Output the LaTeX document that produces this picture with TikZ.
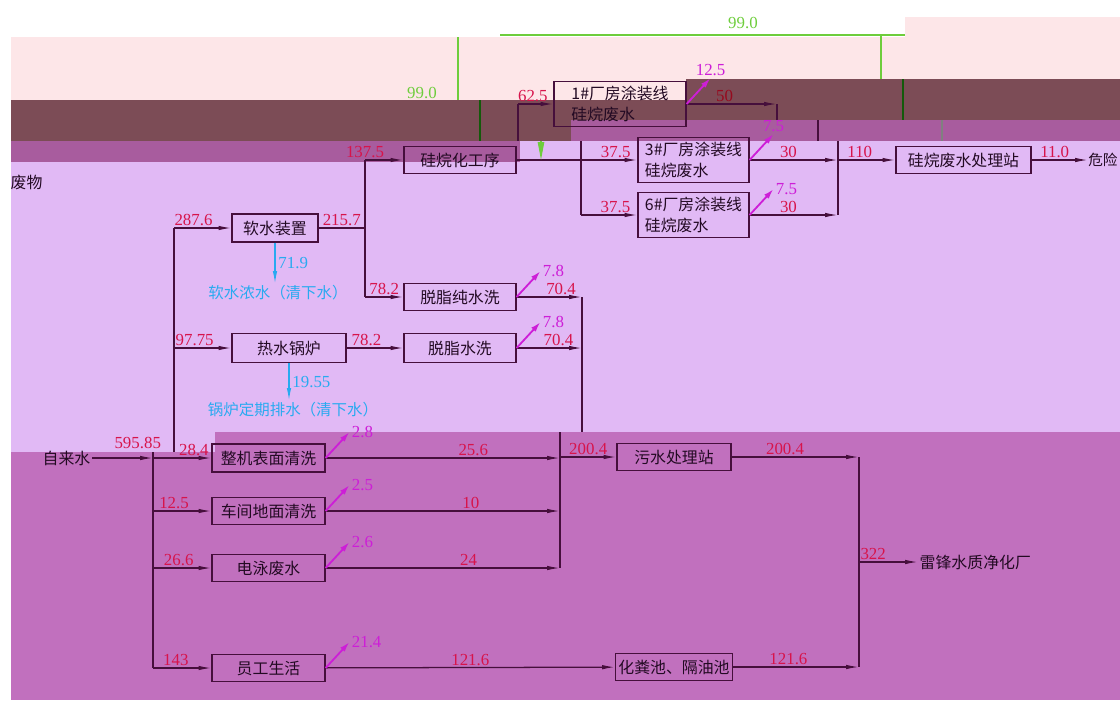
\documentclass[tikz,border=0pt]{standalone}
\usepackage{fontspec}
\newfontfamily\cjk{Noto Sans CJK SC}
\newfontfamily\numf{Liberation Serif}
\usetikzlibrary{arrows.meta,calc}
\definecolor{pinkbg}{RGB}{253,230,232}
\definecolor{brownbg}{RGB}{124,76,86}
\definecolor{midbg}{RGB}{168,92,158}
\definecolor{lavbg}{RGB}{225,185,245}
\definecolor{magbg}{RGB}{193,112,190}
\definecolor{linec}{RGB}{70,15,60}
\definecolor{txtc}{RGB}{35,10,35}
\definecolor{numc}{RGB}{215,20,75}
\definecolor{numdark}{RGB}{150,10,30}
\definecolor{evapc}{RGB}{205,30,215}
\definecolor{dropc}{RGB}{40,170,240}
\definecolor{recyc}{RGB}{110,205,60}
\definecolor{recyd}{RGB}{20,90,10}

\begin{document}
\begin{tikzpicture}[x=0.025cm,y=-0.025cm,>={Latex[length=3.2mm,width=1.1mm]}]
\tikzstyle{box}=[draw=linec,line width=0.8pt,inner sep=2pt,text=txtc,font=\cjk\fontsize{11.3}{15}\selectfont]
\tikzstyle{plain}=[inner sep=1pt,text=txtc,font=\cjk\fontsize{11.3}{13}\selectfont]
\tikzstyle{flow}=[draw=linec,line width=0.9pt]
\tikzstyle{num}=[draw=none,fill=none,above,inner sep=1pt,text=numc,font=\numf\fontsize{12}{12}\selectfont]
\tikzstyle{evap}=[draw=evapc,line width=1.3pt,-{Latex[length=2.6mm,width=1.5mm]}]
\tikzstyle{evlab}=[inner sep=1pt,text=evapc,font=\numf\fontsize{12}{12}\selectfont]
\tikzstyle{drop}=[draw=dropc,line width=0.9pt,->]
\tikzstyle{droplab}=[inner sep=2pt,text=dropc,font=\numf\fontsize{12}{12}\selectfont]
\tikzstyle{dropnote}=[inner sep=1pt,text=dropc,font=\cjk\fontsize{11}{13}\selectfont]
\tikzstyle{recy}=[draw=recyc,line width=0.9pt]
\tikzstyle{recylab}=[inner sep=1pt,text=recyc,font=\numf\fontsize{12}{12}\selectfont]

% page and colour bands
\useasboundingbox (0,0) rectangle (1120,700);
\clip (0,0) rectangle (1120,700);
\fill[pinkbg] (11,37) rectangle (1120,100);
\fill[pinkbg] (905,17) rectangle (1120,37);
\fill[brownbg] (11,100) rectangle (1120,120);
\fill[brownbg] (686,79) rectangle (1120,100);
\fill[brownbg] (11,120) rectangle (571,141);
\fill[midbg] (571,120) rectangle (1120,141);
\fill[lavbg] (11,141) rectangle (1120,452);
\fill[midbg] (11,141) rectangle (520,162);
\fill[magbg] (215,432) rectangle (1120,700);
\fill[magbg] (11,452) rectangle (215,700);

% process boxes
\foreach \name/\point/\bw/\bh/\txt in {
	soft/{275,228}/2.15/0.7/软水装置,
	boiler/{289,348}/2.85/0.72/热水锅炉,
	degpure/{460,297}/2.8/0.68/脱脂纯水洗,
	degwash/{460,348}/2.8/0.72/脱脂水洗,
	silane/{460,160}/2.8/0.68/硅烷化工序,
	wash/{268.5,458}/2.825/0.7/整机表面清洗,
	floor/{268.5,511}/2.825/0.68/车间地面清洗,
	ep/{268.5,568}/2.825/0.68/电泳废水,
	staff/{268.5,668}/2.825/0.68/员工生活,
	wwtp/{674,457}/2.85/0.68/污水处理站,
	septic/{674,667}/2.85/0.68/化粪池、隔油池,
	silstn/{963.5,160}/3.375/0.68/硅烷废水处理站}
	\node[box,minimum width=\bw cm,minimum height=\bh cm] (\name) at (\point) {\txt};
\foreach \name/\point/\bw/\txt in {
	line1/{620,104}/3.3/1\#厂房涂装线,
	line3/{693.5,160}/2.775/3\#厂房涂装线,
	line6/{693.5,215}/2.775/6\#厂房涂装线}
	\node[box,align=left,minimum width=\bw cm,minimum height=1.12cm] (\name) at (\point) {\txt\\硅烷废水};

% texts
\node[plain,anchor=east] (tap) at (92,458) {自来水};
\node[plain,anchor=west] (plant) at (918,562) {雷锋水质净化厂};
\node[plain,anchor=west,inner sep=0pt,font=\cjk\fontsize{10.4}{12}\selectfont] (haz) at (1088,160) {危险};
\node[plain,anchor=west] (hazwrap) at (9,182) {废物};
\node[dropnote] (softdrain) at (278,293) {软水浓水（清下水）};
\node[dropnote] (boildrain) at (293,410) {锅炉定期排水（清下水）};

% junctions
\coordinate (ltop) at (153,452);
\coordinate (lbot) at (153,668);
\coordinate (utop) at (174,228);
\coordinate (ubot) at (174,452);
\coordinate (stop) at (365,160);
\coordinate (sbot) at (365,297);
\coordinate (ctop) at (582,297);
\coordinate (cbot) at (582,432);
\coordinate (dtop) at (560,432);
\coordinate (dbot) at (560,568);
\coordinate (ftop) at (859,457);
\coordinate (fbot) at (859,667);
\coordinate (atop) at (581,141);
\coordinate (abot) at (581,215);
\coordinate (bvtop) at (518,104);
\coordinate (bvbot) at (518,141);
\coordinate (ktop) at (838,141);
\coordinate (kbot) at (838,215);
\coordinate (k50) at (777,104);
\coordinate (k50b) at (777,120);
\coordinate (m1) at (818,120);
\coordinate (m2) at (818,141);

% fresh water
\draw[flow,->] (tap) -- (ltop |- tap) node[num,pos=.75,yshift=5pt] {595.85};
\draw[flow] (ltop) -- (lbot);
\draw[flow] (utop) -- (ubot);
\draw[flow,->] (utop) -- (soft) node[num,pos=.34] {287.6};
\draw[flow,->] (utop |- boiler) -- (boiler) node[num,pos=.36] {97.75};
\foreach \name/\val/\p in {wash/28.4/.7, floor/12.5/.36, ep/26.6/.44, staff/143/.39}
	\draw[flow,->] (ltop |- \name) -- (\name) node[num,pos=\p] {\val};

% soft water and boiler
\draw[flow] (soft) -- (stop |- soft) node[num,midway] {215.7};
\draw[flow] (stop) -- (sbot);
\draw[flow,->] (stop) -- (silane) node[num,pos=0] {137.5};
\draw[flow,->] (sbot) -- (degpure) node[num,midway] {78.2};
\draw[flow,->] (boiler) -- (degwash) node[num,pos=.35] {78.2};
\draw[drop] (soft) -- (soft |- softdrain.north) node[droplab,midway,right] {71.9};
\draw[drop] (boiler) -- (boiler |- boildrain.north) node[droplab,midway,right] {19.55};

% production waste water
\draw[flow,->] (degpure) -- (ctop) node[num,pos=.68] {70.4};
\draw[flow,->] (degwash) -- (ctop |- degwash) node[num,pos=.64] {70.4};
\draw[flow] (ctop) -- (cbot);
\draw[flow] (dtop) -- (dbot);
\foreach \name/\val/\p in {wash/25.6/.63, floor/10/.62, ep/24/.61}
	\draw[flow,->] (\name) -- (dtop |- \name) node[num,pos=\p] {\val};
\draw[flow,->] (dtop |- wwtp) -- (wwtp) node[num,midway] {200.4};
\draw[flow,->] (staff) -- (septic) node[num,midway] {121.6};
\draw[flow,->] (wwtp) -- (ftop) node[num,pos=.42] {200.4};
\draw[flow,->] (septic) -- (fbot) node[num,pos=.44] {121.6};
\draw[flow] (ftop) -- (fbot);
\draw[flow,->] (ftop |- plant) -- (plant) node[num,pos=.24] {322};

% silane lines
\draw[flow,->] (silane) -- (line3) node[num,pos=.82] {37.5};
\draw[flow] (atop) -- (abot);
\draw[flow,->] (abot) -- (line6) node[num,pos=.61] {37.5};
\draw[flow] (bvtop) -- (bvbot);
\draw[flow,->] (bvtop) -- (line1) node[num,pos=.42] {62.5};
\draw[flow,->] (line1) -- (k50) node[num,text=numdark,pos=.42] {50};
\draw[flow] (k50) -- (k50b);
\draw[flow] (m1) -- (m2);
\draw[flow,->] (line3) -- (ktop |- line3) node[num,pos=.44] {30};
\draw[flow,->] (line6) -- (kbot) node[num,pos=.44] {30};
\draw[flow] (ktop) -- (kbot);
\draw[flow,->] (ktop |- silstn) -- (silstn) node[num,pos=.38] {110};
\draw[flow,->] (silstn) -- (haz) node[num,pos=.41] {11.0};

% losses
\foreach \name/\val/\anc in {line1/12.5/south, line3/7.5/south, line6/7.5/west,
	degpure/7.8/west, degwash/7.8/west, wash/2.8/west, floor/2.5/west, ep/2.6/west, staff/21.4/west}{
	\coordinate (\name-up) at ($(\name.east)+(24,-26)$);
	\draw[evap] (\name.east) -- (\name-up) node[evlab,anchor=\anc] {\val};
}

% recycled water
\coordinate (g1) at (500,35);
\coordinate (g2) at (905,35);
\coordinate (g3) at (881,35);
\coordinate (g4) at (881,79);
\coordinate (g5) at (458,37);
\coordinate (g6) at (458,100);
\coordinate (g7) at (480,100);
\coordinate (g8) at (480,141);
\coordinate (g9) at (903,79);
\coordinate (g10) at (903,120);
\coordinate (g11) at (942,120);
\coordinate (g12) at (942,141);
\coordinate (g13) at (541,141);
\coordinate (g14) at (541,160);
\draw[recy] (g1) -- (g2) node[recylab,pos=.6,above=3pt] {99.0};
\draw[recy] (g3) -- (g4);
\draw[recy] (g5) -- (g6);
\node[recylab] (recyval) at (422,93) {99.0};
\draw[draw=recyd,line width=1pt] (g7) -- (g8);
\draw[draw=recyd,line width=1pt] (g9) -- (g10);
\draw[draw=gray,line width=1pt] (g11) -- (g12);
\draw[recy,-{Triangle[length=0.45cm,width=0.16cm]}] (g13) -- (g14);
\end{tikzpicture}
\end{document}
